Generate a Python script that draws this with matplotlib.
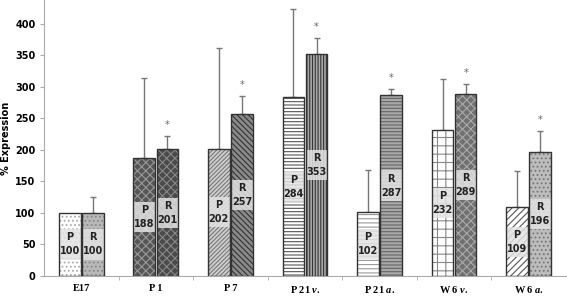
import numpy as np
import matplotlib
matplotlib.use('Agg')
import matplotlib.pyplot as plt

plt.rcParams['mathtext.fontset'] = 'custom'
plt.rcParams['mathtext.it'] = 'Liberation Serif:italic:bold'
plt.rcParams['hatch.linewidth'] = 0.8

# data
groups = ['E17', 'P 1', 'P 7', r'P 21 $\mathit{v}$.', r'P 21 $\mathit{a}$.',
          r'W 6 $\mathit{v}$.', r'W 6 $\mathit{a}$.']
p_vals = [100, 188, 202, 284, 102, 232, 109]
r_vals = [100, 201, 257, 353, 287, 289, 196]
p_err = [0, 127, 160, 140, 66, 80, 58]
r_err = [26, 21, 29, 25, 10, 16, 34]
r_star = [False, True, True, True, True, True, True]

# fill / hatch / hatch colour for each bar
p_style = [('white', '....', '#aaaaaa'), ('#555555', 'xxxx', '#999999'),
           ('#cfcfcf', '////////', '#777777'), ('white', '-----', '#555555'),
           ('white', '----', '#999999'), ('white', '++', '#888888'),
           ('white', '/////', '#555555')]
r_style = [('#b8b8b8', '....', '#888888'), ('#4a4a4a', 'xxxx', '#888888'),
           ('#8a8a8a', '\\\\\\\\\\\\', '#333333'), ('#aaaaaa', '||||||', '#333333'),
           ('#a8a8a8', '-----', '#666666'), ('#707070', 'xxxx', '#aaaaaa'),
           ('#bdbdbd', '....', '#777777')]

fig = plt.figure(figsize=(5.67, 2.97), dpi=100)
ax = fig.add_axes([0.0776, 0.0707, 0.9205, 0.9293])

x = np.arange(len(groups))
w = 0.29
off = 0.155

for i in range(len(groups)):
    for xx, v, e, st, lab in [(x[i] - off, p_vals[i], p_err[i], p_style[i], 'P'),
                              (x[i] + off, r_vals[i], r_err[i], r_style[i], 'R')]:
        fc, h, hc = st
        ax.bar(xx, v, w, color=fc, hatch=h, edgecolor=hc, linewidth=0, zorder=2)
        ax.bar(xx, v, w, fill=False, edgecolor='#333333', linewidth=1, zorder=4)
        # light box behind the label
        ax.bar(xx, 48, w, bottom=v / 2 - 24, color='#e2e2e2', alpha=0.85,
               linewidth=0, zorder=3)
        ax.text(xx, v / 2, '%s\n%d' % (lab, v), ha='center', va='center',
                fontsize=7, fontweight='bold', color='#222222',
                family='DejaVu Sans', linespacing=1.5, zorder=5)
        if e > 0:
            ax.errorbar(xx, v, yerr=[[0], [e]], fmt='none', ecolor='#777777',
                        elinewidth=1, capsize=2.5, capthick=1, zorder=1)
    if r_star[i]:
        ax.text(x[i] + off, r_vals[i] + r_err[i] + 9, '*', ha='center', va='bottom',
                fontsize=7, color='#666666')

ax.set_xlim(-0.5, len(groups) - 0.5)
ax.set_ylim(0, 438)
ax.set_yticks(range(0, 401, 50))
ax.set_xticks(x)
ax.set_xticklabels(groups, family='Liberation Serif', fontweight='bold', fontsize=7.5)
ax.set_xticks(np.arange(0.5, len(groups) - 0.5, 1), minor=True)
ax.tick_params(axis='x', which='major', length=0, pad=6)
ax.tick_params(axis='x', which='minor', length=3, color='#aaaaaa')
ax.tick_params(axis='y', length=3, color='#aaaaaa', labelsize=7, pad=3)
for t in ax.get_yticklabels():
    t.set_fontweight('bold')
ax.set_ylabel('% Expression', fontsize=7, fontweight='bold', labelpad=3)

for s in ['top', 'right']:
    ax.spines[s].set_visible(False)
ax.spines['left'].set_color('#aaaaaa')
ax.spines['bottom'].set_color('#aaaaaa')

fig.savefig('out.png', dpi=100)
